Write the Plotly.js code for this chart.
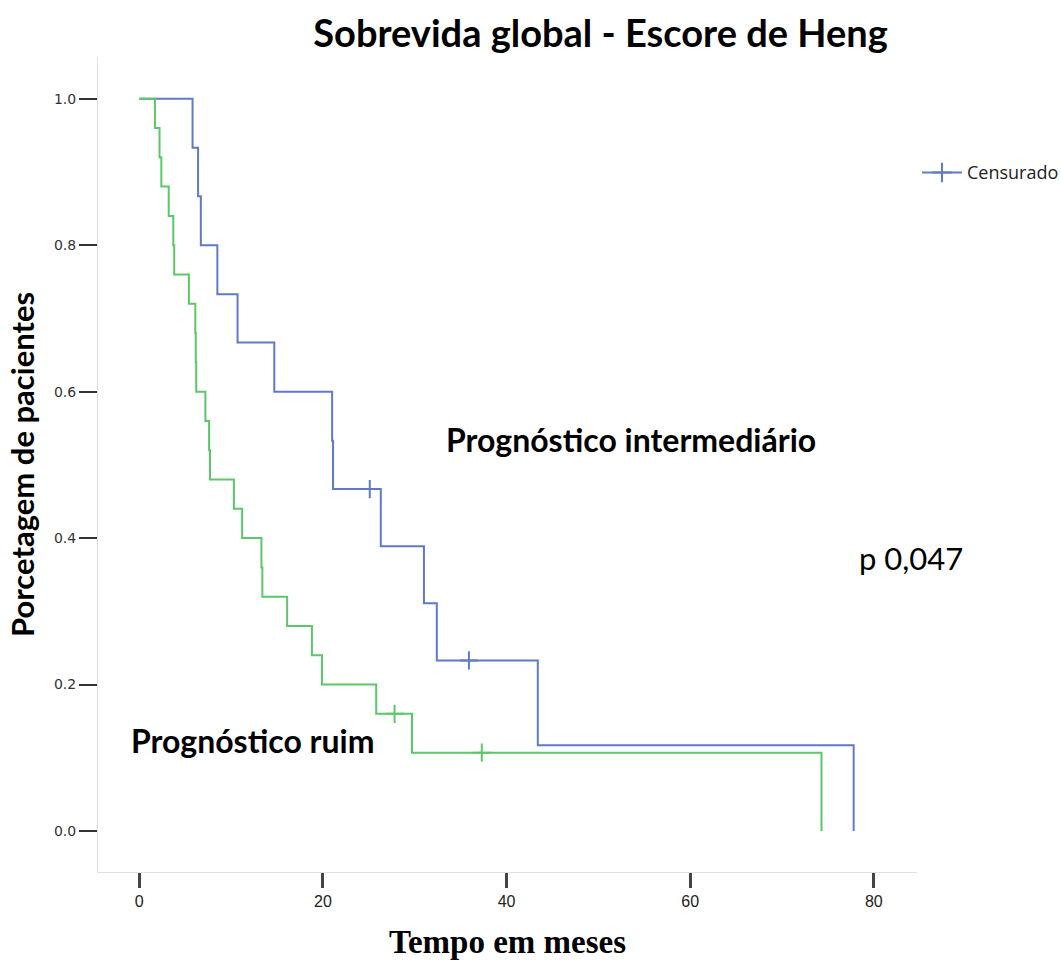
<!DOCTYPE html>
<html>
<head>
<meta charset="utf-8">
<script src="https://cdn.plot.ly/plotly-3.0.1.min.js"></script>
<style>html,body{margin:0;padding:0;background:#fff;}#chart{width:1061px;height:960px;}</style>
</head>
<body>
<div id="chart"></div>
<script>
// Prognóstico intermediário (blue)
const interTimes = [0, 5.8, 6.4, 6.7, 8.5, 10.7, 14.7, 21.0, 21.1, 26.3, 31.0, 32.4, 43.4, 77.8];
const interSurv  = [1.0, 0.933, 0.867, 0.80, 0.733, 0.667, 0.60, 0.533, 0.467, 0.389, 0.311, 0.233, 0.117, 0.0];
const interCensorTimes = [25.1, 35.9];
const interCensorSurv  = [0.467, 0.233];

// Prognóstico ruim (green)
const poorTimes = [0, 1.7, 2.2, 2.4, 3.2, 3.7, 3.8, 5.4, 6.1, 6.15, 6.2, 7.2, 7.6, 7.7, 10.3, 11.2, 13.3, 13.4, 16.1, 18.8, 19.9, 25.8, 29.7, 74.3];
const poorSurv  = [1.0, 0.96, 0.92, 0.88, 0.84, 0.80, 0.76, 0.72, 0.68, 0.64, 0.60, 0.56, 0.52, 0.48, 0.44, 0.40, 0.36, 0.32, 0.28, 0.24, 0.20, 0.16, 0.107, 0.0];
const poorCensorTimes = [27.8, 37.3];
const poorCensorSurv  = [0.16, 0.107];

const xTicks = [0, 20, 40, 60, 80];
const yTicks = [0.0, 0.2, 0.4, 0.6, 0.8, 1.0];
const yTickText = ['0.0', '0.2', '0.4', '0.6', '0.8', '1.0'];

const blue = '#6079c8';
const green = '#5cc769';

const traces = [
  {x: interTimes, y: interSurv, mode: 'lines', line: {shape: 'hv', color: blue, width: 2}, showlegend: false, hoverinfo: 'skip'},
  {x: poorTimes, y: poorSurv, mode: 'lines', line: {shape: 'hv', color: green, width: 2}, showlegend: false, hoverinfo: 'skip'},
  {x: interCensorTimes, y: interCensorSurv, mode: 'markers', marker: {symbol: 'cross-thin', size: 13, line: {color: blue, width: 2}}, showlegend: false},
  {x: poorCensorTimes, y: poorCensorSurv, mode: 'markers', marker: {symbol: 'cross-thin', size: 13, line: {color: green, width: 2}}, showlegend: false},
  {x: [null], y: [null], name: 'Censurado', mode: 'lines+markers', line: {color: blue, width: 2}, marker: {symbol: 'cross-thin', size: 14, line: {color: blue, width: 2}}, showlegend: true}
];

const layout = {
  width: 1061, height: 960,
  paper_bgcolor: '#fff', plot_bgcolor: '#fff',
  margin: {l: 98, r: 144, t: 57, b: 88, autoexpand: false},
  title: {text: 'Sobrevida global - Escore de Heng', font: {family: 'Lato, sans-serif', size: 38, color: '#000', weight: 'bold'}, xref: 'container', x: 0.566, xanchor: 'center', yref: 'container', y: 0.965, yanchor: 'middle'},
  xaxis: {
    range: [-4.5, 84.7], tickvals: xTicks, ticktext: xTicks.map(String),
    showgrid: false, zeroline: false, showline: true, linecolor: '#e0e0e0', linewidth: 1,
    ticks: 'outside', ticklen: 15, tickwidth: 3, tickcolor: '#444',
    tickfont: {family: 'Liberation Sans Narrow, Liberation Sans, Arial, sans-serif', size: 16, color: '#222'},
    title: {text: 'Tempo em meses', font: {family: 'Liberation Serif, serif', size: 33, color: '#000', weight: 'bold'}, standoff: 20}
  },
  yaxis: {
    range: [-0.056, 1.057], tickvals: yTicks, ticktext: yTickText,
    showgrid: false, zeroline: false, showline: true, linecolor: '#e0e0e0', linewidth: 1,
    ticks: 'outside', ticklen: 18, tickwidth: 2, tickcolor: '#333',
    tickfont: {family: 'DejaVu Sans, Verdana, Arial, sans-serif', size: 14, color: '#333'},
    title: {text: 'Porcetagem de pacientes', font: {family: 'Lato, sans-serif', size: 31, color: '#000', weight: 'bold'}, standoff: 10}
  },
  legend: {x: 1.0, xanchor: 'left', y: 0.858, yanchor: 'middle', itemwidth: 40, font: {family: 'Open Sans, sans-serif', size: 18, color: '#222'}, bgcolor: 'rgba(0,0,0,0)'},
  annotations: [
    {x: 53.6, y: 0.534, xref: 'x', yref: 'y', text: 'Prognóstico intermediário', showarrow: false, xanchor: 'center', yanchor: 'middle', font: {family: 'Lato, sans-serif', size: 32, color: '#000', weight: 'bold'}},
    {x: 84.1, y: 0.373, xref: 'x', yref: 'y', text: 'p 0,047', showarrow: false, xanchor: 'center', yanchor: 'middle', font: {family: 'Lato, sans-serif', size: 31, color: '#000'}},
    {x: 12.3, y: 0.124, xref: 'x', yref: 'y', text: 'Prognóstico ruim', showarrow: false, xanchor: 'center', yanchor: 'middle', font: {family: 'Lato, sans-serif', size: 32, color: '#000', weight: 'bold'}}
  ]
};

Plotly.newPlot('chart', traces, layout, {displayModeBar: false, staticPlot: true});
</script>
</body>
</html>
